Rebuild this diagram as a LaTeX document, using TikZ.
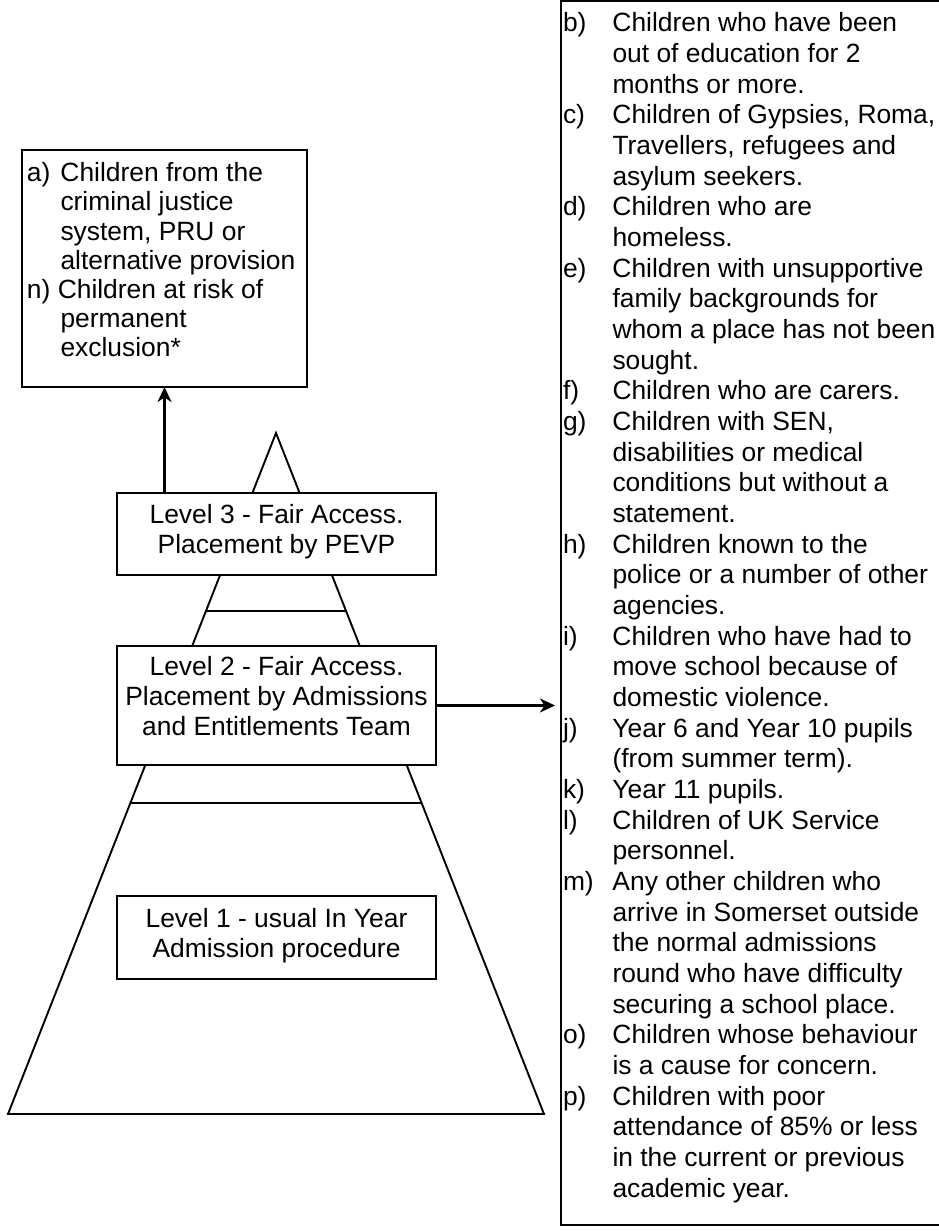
\documentclass[tikz,border=0pt]{standalone}
\usepackage{fontspec}
\setmainfont{Liberation Sans}
\usetikzlibrary{arrows.meta,calc}
\begin{document}
\begin{tikzpicture}[x=1pt,y=-1pt,
  every node/.style={inner sep=0pt, outer sep=0pt},
  txt/.style={font=\fontsize{26.4}{30}\selectfont, anchor=base west},
  ctxt/.style={font=\fontsize{26.4}{30}\selectfont, anchor=base},
  box/.style={draw, line width=1.9pt, fill=white, rectangle},
  arr/.style={line width=2.2pt, -{Stealth[length=15pt,width=14pt,inset=4.5pt]}},
  pyr/.style={line width=1.9pt}]
\useasboundingbox (0,0) rectangle (939,1231);

% pyramid
\coordinate (apex) at (276,433);
\coordinate (bl) at (8,1114);
\coordinate (br) at (544,1114);
\draw[pyr, line join=miter] (apex) -- (bl) -- (br) -- cycle;
\draw[pyr] ($(apex)!0.2614!(bl)$) -- ($(apex)!0.2614!(br)$);
\draw[pyr] ($(apex)!0.5433!(bl)$) -- ($(apex)!0.5433!(br)$);

% level boxes
\node[box, minimum width=319pt, minimum height=82pt] (L3) at (276.5,534) {};
\node[ctxt] (L3a) at (276.5,523) {Level 3 - Fair Access.};
\node[ctxt] (L3b) at (276.5,553) {Placement by PEVP};

\node[box, minimum width=319pt, minimum height=119pt] (L2) at (276.5,705.5) {};
\node[ctxt] (L2a) at (276.5,675) {Level 2 - Fair Access.};
\node[ctxt] (L2b) at (276.5,705) {Placement by Admissions};
\node[ctxt] (L2c) at (276.5,735) {and Entitlements Team};

\node[box, minimum width=319pt, minimum height=83pt] (L1) at (276.5,937.5) {};
\node[ctxt] (L1a) at (276.5,927) {Level 1 - usual In Year};
\node[ctxt] (L1b) at (276.5,957) {Admission procedure};

% box a
\node[box, minimum width=285pt, minimum height=237pt, anchor=north west] (a) at (22,150) {};
\foreach \lab/\txt [count=\i from 0] in {
  {a)}/{Children from the},
  {}/{criminal justice},
  {}/{system, PRU or},
  {}/{alternative provision},
  {n) Children at risk of}/{},
  {}/{permanent},
  {}/{exclusion*}}{
  \node[txt] (al\i) at (27,181.7+29.2*\i) {\makebox[33.5pt][l]{\lab}\txt};
}

% right box
\node[box, minimum width=420pt, minimum height=1224pt, anchor=north west] (rb) at (561,1) {};
\foreach \lab/\txt [count=\i from 0] in {
  {b)}/{Children who have been},
  {}/{out of education for 2},
  {}/{months or more.},
  {c)}/{Children of Gypsies, Roma,},
  {}/{Travellers, refugees and},
  {}/{asylum seekers.},
  {d)}/{Children who are},
  {}/{homeless.},
  {e)}/{Children with unsupportive},
  {}/{family backgrounds for},
  {}/{whom a place has not been},
  {}/{sought.},
  {f)}/{Children who are carers.},
  {g)}/{Children with SEN,},
  {}/{disabilities or medical},
  {}/{conditions but without a},
  {}/{statement.},
  {h)}/{Children known to the},
  {}/{police or a number of other},
  {}/{agencies.},
  {i)}/{Children who have had to},
  {}/{move school because of},
  {}/{domestic violence.},
  {j)}/{Year 6 and Year 10 pupils},
  {}/{(from summer term).},
  {k)}/{Year 11 pupils.},
  {l)}/{Children of UK Service},
  {}/{personnel.},
  {m)}/{Any other children who},
  {}/{arrive in Somerset outside},
  {}/{the normal admissions},
  {}/{round who have difficulty},
  {}/{securing a school place.},
  {o)}/{Children whose behaviour},
  {}/{is a cause for concern.},
  {p)}/{Children with poor},
  {}/{attendance of 85\% or less},
  {}/{in the current or previous},
  {}/{academic year.}}{
  \node[txt] (rl\i) at (563,32+30.66*\i) {\makebox[49.5pt][l]{\lab}\txt};
}

% connectors
\draw[arr] (L3.north -| a.south) -- (a.south);
\draw[arr, shorten >=6pt] (L2.east) -- (L2.east -| rb.west);
\end{tikzpicture}
\end{document}
